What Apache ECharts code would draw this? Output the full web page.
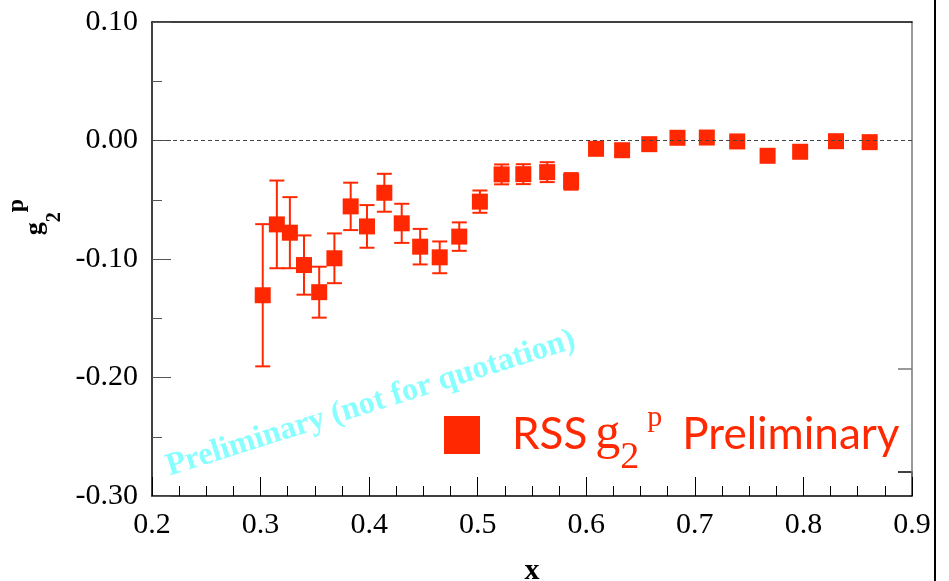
<!DOCTYPE html>
<html>
<head>
<meta charset="utf-8">
<script src="https://cdn.jsdelivr.net/npm/echarts@6/dist/echarts.min.js"></script>
<style>
  html, body { margin: 0; padding: 0; background: #fff; }
  #chart { width: 949px; height: 581px; }
</style>
</head>
<body>
<div id="chart"></div>
<script>
// g2p 数据点 (x, 值, 误差)
var xVals = [0.302, 0.315, 0.327, 0.340, 0.354, 0.368, 0.383, 0.398, 0.414, 0.430,
             0.447, 0.465, 0.483, 0.502, 0.522, 0.542, 0.564, 0.586, 0.609, 0.633,
             0.658, 0.684, 0.711, 0.739, 0.767, 0.797, 0.830, 0.861];
var g2pVals = [-0.1306, -0.0708, -0.0778, -0.1051, -0.1280, -0.0994, -0.0556, -0.0725, -0.0441, -0.0699,
               -0.0896, -0.0986, -0.0811, -0.0516, -0.0286, -0.0284, -0.0267, -0.0345, -0.0070, -0.0082,
               -0.0031, 0.0023, 0.0025, -0.0008, -0.0129, -0.0095, -0.0006, -0.0014];
var g2pErrs = [0.060, 0.037, 0.030, 0.025, 0.0215, 0.021, 0.020, 0.018, 0.016, 0.0165,
               0.015, 0.0134, 0.012, 0.0094, 0.0084, 0.0084, 0.0084, 0.007, 0.005, 0.005,
               0.004, 0.004, 0.004, 0.004, 0.004, 0.004, 0.004, 0.004];

var RED = '#ff2800';
var SERIES_NAME = 'RSS g2p Preliminary';

var points = xVals.map(function (x, i) { return [x, g2pVals[i]]; });
var bars = xVals.map(function (x, i) { return [x, g2pVals[i] - g2pErrs[i], g2pVals[i] + g2pErrs[i]]; });

var myChart = echarts.init(document.getElementById('chart'));

var option = {
    animation: false,
    grid: { left: 152, top: 22, right: 37, bottom: 85, outerBoundsMode: 'none' },
    xAxis: [{
        type: 'value', min: 0.2, max: 0.9, interval: 0.1,
        axisLine: { onZero: false, lineStyle: { color: '#000', width: 1.5 } },
        axisTick: { inside: true, length: 19, lineStyle: { color: '#000', width: 1 } },
        minorTick: { show: true, splitNumber: 4, length: 10, lineStyle: { color: '#000', width: 1 } },
        splitLine: { show: false },
        axisLabel: {
            margin: 14, color: '#000', fontFamily: 'Liberation Serif', fontSize: 30,
            formatter: function (v) { return v.toFixed(1); }
        },
        name: 'x', nameLocation: 'middle', nameGap: 60,
        nameTextStyle: { fontFamily: 'Liberation Serif', fontWeight: 'bold', fontSize: 30, color: '#000' }
    }, {
        // 上边框
        type: 'value', position: 'top', min: 0.2, max: 0.9,
        axisLine: { onZero: false, lineStyle: { color: '#000', width: 1.5 } },
        axisTick: { show: false }, axisLabel: { show: false }, splitLine: { show: false }
    }],
    yAxis: [{
        type: 'value', min: -0.3, max: 0.1, interval: 0.1,
        axisLine: { onZero: false, lineStyle: { color: '#000', width: 1.5 } },
        axisTick: { inside: true, length: 19, lineStyle: { color: '#555', width: 1 } },
        minorTick: { show: true, splitNumber: 2, length: 10, lineStyle: { color: '#555', width: 1 } },
        splitLine: { show: false },
        axisLabel: {
            margin: 14, color: '#000', fontFamily: 'Liberation Serif', fontSize: 30,
            formatter: function (v) { return v.toFixed(2); }
        }
    }, {
        // 右边框
        type: 'value', position: 'right', min: -0.3, max: 0.1,
        axisLine: { onZero: false, lineStyle: { color: '#777', width: 1.5 } },
        axisTick: { show: false }, axisLabel: { show: false }, splitLine: { show: false }
    }],
    legend: {
        data: [SERIES_NAME],
        left: 444, top: 403, padding: 0,
        itemWidth: 36, itemHeight: 38, icon: 'rect',
        selectedMode: false,
        formatter: function () { return '{r|RSS}{g|g}{s|2}{p|p}{r2|Preliminary}'; },
        textStyle: {
            color: RED,
            rich: {
                r: { fontFamily: 'Lato', fontSize: 44, color: RED, padding: [0, 8, 0, 27] },
                g: { fontFamily: 'Liberation Serif', fontSize: 50, color: RED },
                s: { fontFamily: 'Liberation Serif', fontSize: 38, color: RED, padding: [46, 0, 0, 0] },
                p: { fontFamily: 'Liberation Serif', fontSize: 30, color: RED, padding: [0, 20, 34, 8] },
                r2: { fontFamily: 'Lato', fontSize: 44, color: RED }
            }
        }
    },
    graphic: [
        {
            // 水印
            type: 'text', x: 172, y: 483, rotation: 17.5 * Math.PI / 180, z: 0,
            style: {
                text: '{w|Preliminary (not for quotation)}',
                align: 'left', verticalAlign: 'bottom',
                rich: {
                    w: { fontFamily: 'Liberation Serif', fontWeight: 'bold', fontSize: 32, fill: '#88ffff' }
                }
            }
        },
        {
            // 纵轴标题 g2p
            type: 'text', x: 35, y: 217, rotation: Math.PI / 2,
            style: {
                text: '{g|g}{s|2}{p|p}',
                align: 'center', verticalAlign: 'middle',
                rich: {
                    g: { fontFamily: 'Liberation Serif', fontWeight: 'bold', fontSize: 26, fill: '#000', lineHeight: 60 },
                    s: { fontFamily: 'Liberation Serif', fontWeight: 'bold', fontSize: 20, fill: '#000', lineHeight: 42, verticalAlign: 'bottom' },
                    p: { fontFamily: 'Liberation Serif', fontWeight: 'bold', fontSize: 24, fill: '#000', lineHeight: 32, verticalAlign: 'top' }
                }
            }
        },
        // 图例框的角
        { type: 'polyline', shape: { points: [[898, 369], [912, 369]] }, style: { stroke: '#777', lineWidth: 1.5 } },
        { type: 'polyline', shape: { points: [[898, 472], [912, 472], [912, 496]] }, style: { stroke: '#000', lineWidth: 1.5 } },
        { type: 'line', shape: { x1: 935, y1: 0, x2: 935, y2: 581 }, style: { stroke: '#000', lineWidth: 2 } }
    ],
    series: [
        {
            name: 'err',
            type: 'custom',
            data: bars,
            z: 2,
            renderItem: function (params, api) {
                var top = api.coord([api.value(0), api.value(2)]);
                var bot = api.coord([api.value(0), api.value(1)]);
                var w = 7.5;
                var st = { stroke: RED, lineWidth: 2 };
                return {
                    type: 'group',
                    children: [
                        { type: 'line', shape: { x1: top[0], y1: top[1], x2: bot[0], y2: bot[1] }, style: st },
                        { type: 'line', shape: { x1: top[0] - w, y1: top[1], x2: top[0] + w, y2: top[1] }, style: st },
                        { type: 'line', shape: { x1: bot[0] - w, y1: bot[1], x2: bot[0] + w, y2: bot[1] }, style: st }
                    ]
                };
            }
        },
        {
            name: SERIES_NAME,
            type: 'scatter',
            data: points,
            symbol: 'rect',
            symbolSize: 16,
            z: 3,
            itemStyle: { color: RED, opacity: 1 },
            markLine: {
                silent: true, symbol: 'none',
                label: { show: false },
                lineStyle: { type: [4, 3], color: '#444', width: 1 },
                data: [{ yAxis: 0 }]
            }
        }
    ]
};

myChart.setOption(option);
</script>
</body>
</html>
